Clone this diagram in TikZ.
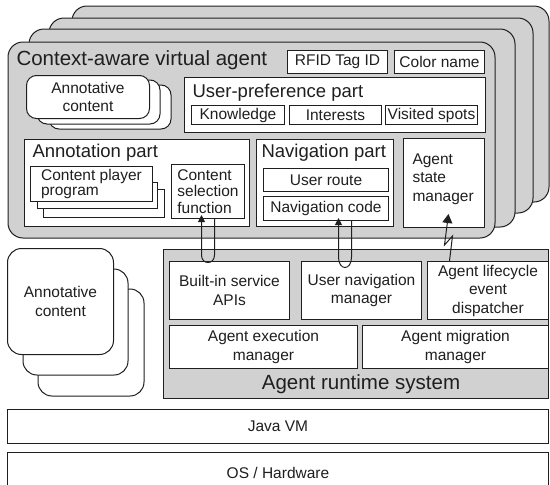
\documentclass[tikz,border=0pt]{standalone}
\usepackage{fontspec}
\setmainfont{Liberation Sans}
\usetikzlibrary{arrows.meta, calc}
\definecolor{cardgray}{gray}{0.82}
\definecolor{ink}{gray}{0.12}

\begin{document}
\begin{tikzpicture}[x=1pt, y=-1pt, line width=1pt, color=ink,
	card/.style={fill=cardgray, draw=ink, rounded corners=15pt},
	sheet/.style={fill=white, draw=ink},
	blk/.style={draw=ink, fill=white, inner sep=0pt, anchor=north west, font=\fontsize{15.5}{18.5}\selectfont},
	txt/.style={inner sep=0pt, font=\fontsize{15.5}{18.5}\selectfont},
	parthead/.style={inner sep=0pt, anchor=base west, font=\fontsize{18.5}{21}\selectfont},
	big/.style={inner sep=0pt, font=\fontsize{20.5}{24}\selectfont},
	flow/.style={-{Triangle[length=7pt, width=7pt]}}]

	\useasboundingbox (0,0) rectangle (550,485);

	\filldraw[card] (72,6) rectangle (549,202);
	\filldraw[card] (49,18) rectangle (533,213);
	\filldraw[card] (29,29) rectangle (515,227);
	\filldraw[card] (8,42) rectangle (495,238);

	\node[big, anchor=base west] (agent) at (16,65) {Context-aware virtual agent};
	\node[blk, minimum width=100, minimum height=23] (rfid) at (287,50) {RFID Tag ID};
	\node[blk, minimum width=90, minimum height=23] (colname) at (394,50) {Color name};

	\filldraw[sheet, rounded corners=10pt] (49,85) rectangle (171,129);
	\filldraw[sheet, rounded corners=10pt] (37,80) rectangle (160,124);
	\node[blk, rounded corners=10pt, minimum width=123, minimum height=43, align=center] (annot) at (26,75) {Annotative\\content};

	\node[blk, minimum width=301, minimum height=55] (userpref) at (184,77) {};
	\node[parthead] (userpreft) at (192,97) {User-preference part};
	\node[blk, minimum width=93, minimum height=19] (know) at (191,105) {Knowledge};
	\node[blk, minimum width=92, minimum height=19] (interest) at (289,105) {Interests};
	\node[blk, minimum width=92, minimum height=19] (visited) at (385,105) {Visited spots};

	\node[blk, minimum width=225, minimum height=87] (annpart) at (24,139) {};
	\node[parthead] (annpartt) at (32,157) {Annotation part};
	\filldraw[sheet] (43,189) rectangle (164,217);
	\filldraw[sheet] (37,182) rectangle (157,208);
	\node[blk, minimum width=122, minimum height=35, align=left, font=\fontsize{15.5}{15}\selectfont] (player) at (30,166) {Content player\\program};
	\node[blk, minimum width=73, minimum height=54, align=left, font=\fontsize{15.5}{16.5}\selectfont] (csf) at (171,164) {Content\\selection\\function};

	\node[blk, minimum width=137, minimum height=87] (navpart) at (256,139) {};
	\node[parthead] (navpartt) at (261,157) {Navigation part};
	\node[blk, minimum width=125, minimum height=23] (route) at (263,168) {User route};
	\node[blk, minimum width=125, minimum height=24] (navcode) at (263,196) {Navigation code};

	\node[blk, minimum width=81, minimum height=89] (asm) at (403,138) {};
	\node[txt, anchor=north west, align=left] (asmt) at (412,153) {Agent\\state\\manager};

	\filldraw[sheet, rounded corners=14pt] (38,289) rectangle (144,396);
	\filldraw[sheet, rounded corners=14pt] (23,269) rectangle (128,375);
	\node[blk, rounded corners=14pt, minimum width=106, minimum height=106, align=center] (annot2) at (7,248) {Annotative\\content};

	\node[blk, fill=cardgray, minimum width=385, minimum height=149] (ars) at (163,249) {};
	\node[blk, minimum width=120, minimum height=58, align=center] (bsa) at (169,261) {Built-in service\\APIs};
	\node[blk, minimum width=120, minimum height=58, align=center] (unm) at (301,261) {User navigation\\manager};
	\node[blk, minimum width=121, minimum height=58, align=center] (als) at (427,261) {Agent lifecycle\\event\\dispatcher};
	\node[blk, minimum width=188, minimum height=43, align=center] (aem) at (169,325) {Agent execution\\manager};
	\node[blk, minimum width=186, minimum height=43, align=center] (amm) at (362,325) {Agent migration\\manager};
	\node[big, anchor=base] (arst) at (361,389) {Agent runtime system};

	\node[blk, minimum width=541, minimum height=34] (jvm) at (7,409) {Java VM};
	\node[blk, minimum width=541, minimum height=40] (os) at (7,452) {OS / Hardware};

	\draw[flow] ($(csf.south)+(6.5,0)$) -- ($(csf.south |- bsa.north)+(6.5,-6)$)
		.. controls +(0,10) and +(0,10) .. ($(csf.south |- bsa.north)+(-6.5,-6)$) -- ($(csf.south)+(-6.5,-4)$);
	\draw[flow] ($(navcode.south)+(25.5,0)$) -- ($(navcode.south |- unm.north)+(25.5,-4)$)
		.. controls +(0,14) and +(0,14) .. ($(navcode.south |- unm.north)+(12.5,-4)$) -- ($(navcode.south)+(12.5,-3)$);
	\draw[-{Triangle[length=9pt, width=10pt]}] ($(als.north)+(-38.5,0)$) -- ++(3,-25) -- ++(-8,9) -- ($(asm.south)+(4.5,-14)$);

\end{tikzpicture}
\end{document}
